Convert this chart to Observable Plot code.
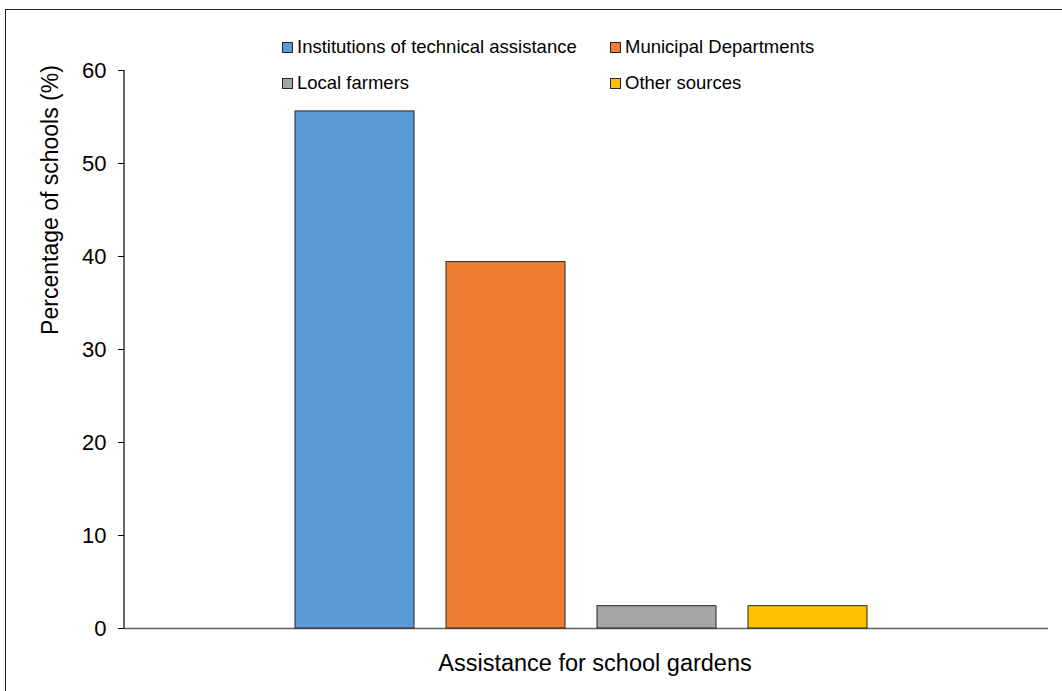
<!DOCTYPE html>
<html>
<head>
<meta charset="utf-8">
<script src="https://cdn.jsdelivr.net/npm/d3@7"></script>
<script src="https://cdn.jsdelivr.net/npm/@observablehq/plot@0.6"></script>
<style>
  html, body { margin: 0; padding: 0; background: #fff; }
  #wrap { position: relative; width: 1062px; height: 691px; overflow: hidden; font-family: "Liberation Sans", Arial, sans-serif; color: #000; }
  #border { position: absolute; left: 5px; top: 9px; width: 1100px; height: 720px; border: 1.5px solid #262626; box-sizing: border-box; }
  #chart { position: absolute; left: 0; top: 0; }
  .legend-item { position: absolute; display: flex; align-items: center; font-size: 18.5px; white-space: nowrap; height: 24px; }
  .legend-item .sw { width: 9px; height: 9px; border: 1px solid #262626; margin-right: 4px; }
  #ytitle { position: absolute; left: 50px; top: 200px; transform: translate(-50%, -50%) rotate(-90deg); font-size: 23px; white-space: nowrap; }
  #xtitle { position: absolute; left: 595px; top: 663px; transform: translate(-50%, -50%); font-size: 23.5px; white-space: nowrap; }
</style>
</head>
<body>
<div id="wrap">
  <div id="border"></div>
  <div id="chart"></div>
  <div id="legend"></div>
  <div id="ytitle"></div>
  <div id="xtitle"></div>
</div>
<script>
// ---- data ----
const series = ["Institutions of technical assistance", "Municipal Departments", "Local farmers", "Other sources"];
const values = [55.6, 39.4, 2.4, 2.4];
const colors = ["#5B9BD5", "#ED7D31", "#A5A5A5", "#FFC000"];
const yTicks = [0, 10, 20, 30, 40, 50, 60];
const yTitle = "Percentage of schools (%)";
const xTitle = "Assistance for school gardens";

const data = series.map((s, i) => ({series: s, value: values[i], color: colors[i]}));

// y axis line drawn through the y scale
const yAxisLine = (index, scales, vals, dims) => {
  const g = d3.create("svg:line")
    .attr("x1", dims.marginLeft).attr("x2", dims.marginLeft)
    .attr("y1", scales.y(yTicks[0])).attr("y2", scales.y(yTicks[yTicks.length - 1]))
    .attr("stroke", "#000").attr("stroke-width", 1.2);
  return g.node();
};

const chart = Plot.plot({
  width: 1062,
  height: 691,
  marginLeft: 124,
  marginRight: 14,
  marginTop: 70,
  marginBottom: 63,
  style: {fontFamily: "'Liberation Sans', Arial, sans-serif", fontSize: "22px", color: "#000", background: "transparent"},
  x: {type: "band", domain: series, range: [277, 885], paddingInner: 0.2105, paddingOuter: 0.1053, axis: null},
  y: {domain: [0, 60], axis: null},
  marks: [
    Plot.ruleY([0], {stroke: "#5f5f5f", strokeWidth: 1.5}),
    Plot.barY(data, {x: "series", y: "value", fill: "color", stroke: "#262626", strokeWidth: 1}),
    Plot.axisY({ticks: yTicks, tickSize: 6, tickPadding: 12, tickFormat: d => d, label: null, stroke: "#000", fill: "#000", fontSize: 22}),
    yAxisLine
  ]
});
document.getElementById("chart").appendChild(chart);

// legend (HTML)
const legend = document.getElementById("legend");
const legendPos = [[282, 47], [610, 47], [282, 83], [610, 83]];
series.forEach((s, i) => {
  const item = document.createElement("div");
  item.className = "legend-item";
  item.style.left = legendPos[i][0] + "px";
  item.style.top = (legendPos[i][1] - 12) + "px";
  const sw = document.createElement("div");
  sw.className = "sw";
  sw.style.background = colors[i];
  const t = document.createElement("span");
  t.textContent = s;
  item.appendChild(sw);
  item.appendChild(t);
  legend.appendChild(item);
});

document.getElementById("ytitle").textContent = yTitle;
document.getElementById("xtitle").textContent = xTitle;
</script>
</body>
</html>
